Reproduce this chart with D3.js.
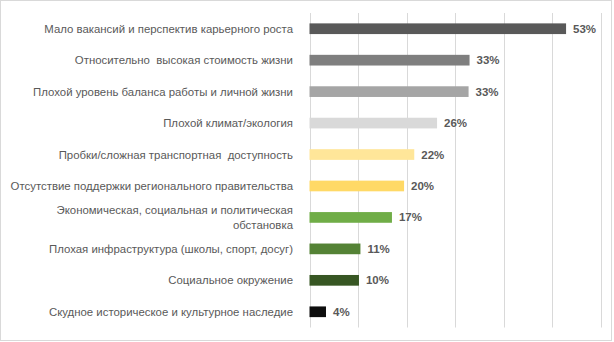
<!DOCTYPE html>
<html><head><meta charset="utf-8">
<script src="https://cdn.jsdelivr.net/npm/d3@7"></script>
<style>html,body{margin:0;padding:0;background:#fff;}svg{display:block;}text{white-space:pre;}</style>
</head><body>
<script>
const categories = [
  "Мало вакансий и перспектив карьерного роста",
  "Относительно  высокая стоимость жизни",
  "Плохой уровень баланса работы и личной жизни",
  "Плохой климат/экология",
  "Пробки/сложная транспортная  доступность",
  "Отсутствие поддержки регионального правительства",
  "Экономическая, социальная и политическая\nобстановка",
  "Плохая инфраструктура (школы, спорт, досуг)",
  "Социальное окружение",
  "Скудное историческое и культурное наследие"
];
const values = [52.9, 33.0, 32.8, 26.3, 21.6, 19.5, 17.0, 10.5, 10.2, 3.4];
const valueLabels = ["53%", "33%", "33%", "26%", "22%", "20%", "17%", "11%", "10%", "4%"];
const colors = ["#595959", "#7f7f7f", "#a5a5a5", "#d9d9d9", "#ffe699", "#ffd966", "#70ad47", "#548235", "#375623", "#0d0d0d"];
const xTicks = [0, 10, 20, 30, 40, 50, 60];

const W = 614, H = 342;
const svg = d3.select("body").append("svg").attr("width", W).attr("height", H);
svg.append("rect").attr("x", 0.5).attr("y", 0.5).attr("width", 611).attr("height", 340)
  .attr("fill", "#fff").attr("stroke", "#d9d9d9");

const x = d3.scaleLinear().domain([0, 60]).range([309.5, 600.5]);
const y = d3.scaleBand().domain(d3.range(categories.length)).range([13, 327.5]).paddingInner(0.66).paddingOuter(0.33);

const g = svg.append("g");
g.append("g").selectAll("line").data(xTicks).join("line")
  .attr("x1", d => Math.round(x(d)) + 0.5).attr("x2", d => Math.round(x(d)) + 0.5)
  .attr("y1", 13).attr("y2", 327.5).attr("stroke", "#d9d9d9").attr("stroke-width", 1);

g.append("g").selectAll("rect").data(values).join("rect")
  .attr("x", x(0)).attr("y", (d, i) => y(i)).attr("width", d => x(d) - x(0))
  .attr("height", y.bandwidth()).attr("fill", (d, i) => colors[i]);

const font = "'Liberation Sans', Arial, sans-serif";
g.append("g").selectAll("text").data(values).join("text")
  .attr("x", d => x(d) + 7).attr("y", (d, i) => y(i) + y.bandwidth() / 2)
  .attr("dy", "0.35em").attr("font-family", font).attr("font-size", 11.5).attr("font-weight", "bold")
  .attr("fill", "#595959").text((d, i) => valueLabels[i]);

const lab = g.append("g").selectAll("text").data(categories).join("text")
  .attr("x", 293).attr("text-anchor", "end")
  .attr("font-family", font).attr("font-size", 11.4).attr("fill", "#595959");
lab.each(function(d, i) {
  const lines = d.split("\n");
  const cy = y(i) + y.bandwidth() / 2;
  const lh = 15;
  const t = d3.select(this);
  lines.forEach((ln, k) => {
    t.append("tspan").attr("x", 293).attr("y", cy + (k - (lines.length - 1) / 2) * lh)
      .attr("dy", "0.35em").text(ln);
  });
});
</script>
</body></html>
